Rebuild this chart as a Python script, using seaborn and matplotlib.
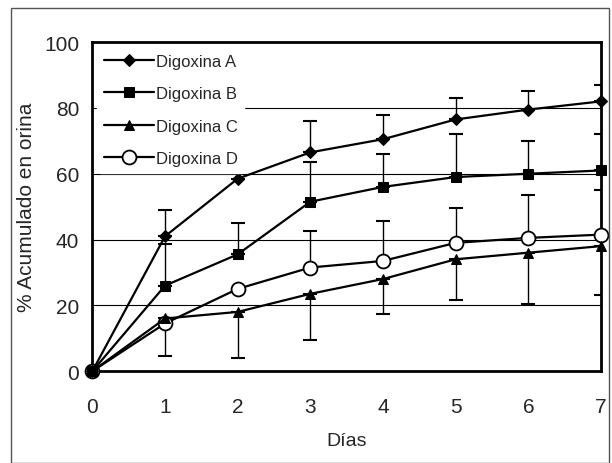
import numpy as np
import pandas as pd
import matplotlib
matplotlib.use("Agg")
import matplotlib.pyplot as plt
import seaborn as sns
from matplotlib.ticker import MultipleLocator
from matplotlib.patches import Rectangle

# ===================
# Data
# ===================
dias = [0, 1, 2, 3, 4, 5, 6, 7]
series_names = ["Digoxina A", "Digoxina B", "Digoxina C", "Digoxina D"]

digoxina_a = [0, 41, 58.5, 66.5, 70.5, 76.5, 79.5, 82]
digoxina_b = [0, 26, 35.5, 51.5, 56, 59, 60, 61]
digoxina_c = [0, 16, 18, 23.5, 28, 34, 36, 38]
digoxina_d = [0, 14.5, 25, 31.5, 33.5, 39, 40.5, 41.5]

# error bar ends (upper caps for A, B, D; lower caps for C)
a_upper = [0, 49, 67, 76, 78, 83, 85, 87]
b_upper = [0, 38.5, 45, 63.5, 66, 72, 70, 72]
d_upper = [0, 14.5, 25, 42.5, 45.5, 49.5, 53.5, 55]
c_lower = [0, 4.5, 4, 9.5, 17.5, 21.5, 20.5, 23]

y_grid = [20, 40, 60, 80]

df = pd.DataFrame({"dias": dias, "Digoxina A": digoxina_a, "Digoxina B": digoxina_b,
                   "Digoxina C": digoxina_c, "Digoxina D": digoxina_d})

sns.set_theme(style="white")
plt.rcParams["font.family"] = ["Liberation Sans", "DejaVu Sans"]

fig = plt.figure(figsize=(6.12, 4.64), dpi=100)
fig.patches.append(Rectangle((0.018, 0.0), 0.977, 0.98, transform=fig.transFigure,
                             fill=False, edgecolor="#555555", linewidth=1.0))
ax = fig.add_axes([0.151, 0.198, 0.831, 0.709])

for g in y_grid:
    ax.axhline(g, color="black", linewidth=0.8, zorder=0)

# error bars
ax.errorbar(dias, digoxina_a, yerr=[np.zeros(len(dias)), np.array(a_upper) - np.array(digoxina_a)],
            fmt="none", ecolor="black", elinewidth=1.0, capsize=5, capthick=1.5)
ax.errorbar(dias, digoxina_b, yerr=[np.zeros(len(dias)), np.array(b_upper) - np.array(digoxina_b)],
            fmt="none", ecolor="black", elinewidth=1.0, capsize=5, capthick=1.5)
ax.errorbar(dias, digoxina_d, yerr=[np.zeros(len(dias)), np.array(d_upper) - np.array(digoxina_d)],
            fmt="none", ecolor="black", elinewidth=1.0, capsize=5, capthick=1.5)
ax.errorbar(dias, digoxina_c, yerr=[np.array(digoxina_c) - np.array(c_lower), np.zeros(len(dias))],
            fmt="none", ecolor="black", elinewidth=1.0, capsize=5, capthick=1.5)

styles = {
    "Digoxina A": dict(marker="D", markersize=6, markerfacecolor="black", zorder=4),
    "Digoxina B": dict(marker="s", markersize=7, markerfacecolor="black", zorder=4),
    "Digoxina C": dict(marker="^", markersize=7, markerfacecolor="black", zorder=4),
    "Digoxina D": dict(marker="o", markersize=10, markerfacecolor="white", markeredgewidth=1.3, zorder=3),
}
for name in series_names:
    sns.lineplot(data=df, x="dias", y=name, ax=ax, color="black", linewidth=1.6,
                 label=name, markeredgecolor="black", clip_on=False, **styles[name])

ax.set_xlim(0, 7)
ax.set_ylim(0, 100)
ax.xaxis.set_major_locator(MultipleLocator(1))
ax.xaxis.set_minor_locator(MultipleLocator(0.2))
ax.yaxis.set_major_locator(MultipleLocator(20))
ax.yaxis.set_minor_locator(MultipleLocator(4))
ax.tick_params(axis="both", which="major", labelsize=15, length=7, width=2,
               direction="inout", color="black")
ax.tick_params(axis="x", which="major", pad=15)
ax.tick_params(axis="y", which="major", pad=6)
ax.tick_params(axis="both", which="minor", length=4, width=1.5, direction="inout", color="black")
for sp in ax.spines.values():
    sp.set_color("black")
    sp.set_linewidth(2)

ax.set_xlabel("Días", fontsize=14, labelpad=12)
ax.set_ylabel("% Acumulado en orina", fontsize=15, labelpad=6)

leg = ax.legend(loc="upper left", frameon=True, facecolor="white", edgecolor="white",
                framealpha=1, fontsize=12, handlelength=3.0, handletextpad=0.1,
                labelspacing=1.05, borderaxespad=0.3)
for t in leg.get_texts():
    t.set_family(["Liberation Sans Narrow", "Liberation Sans", "DejaVu Sans"])

fig.savefig("out.png", dpi=100)
